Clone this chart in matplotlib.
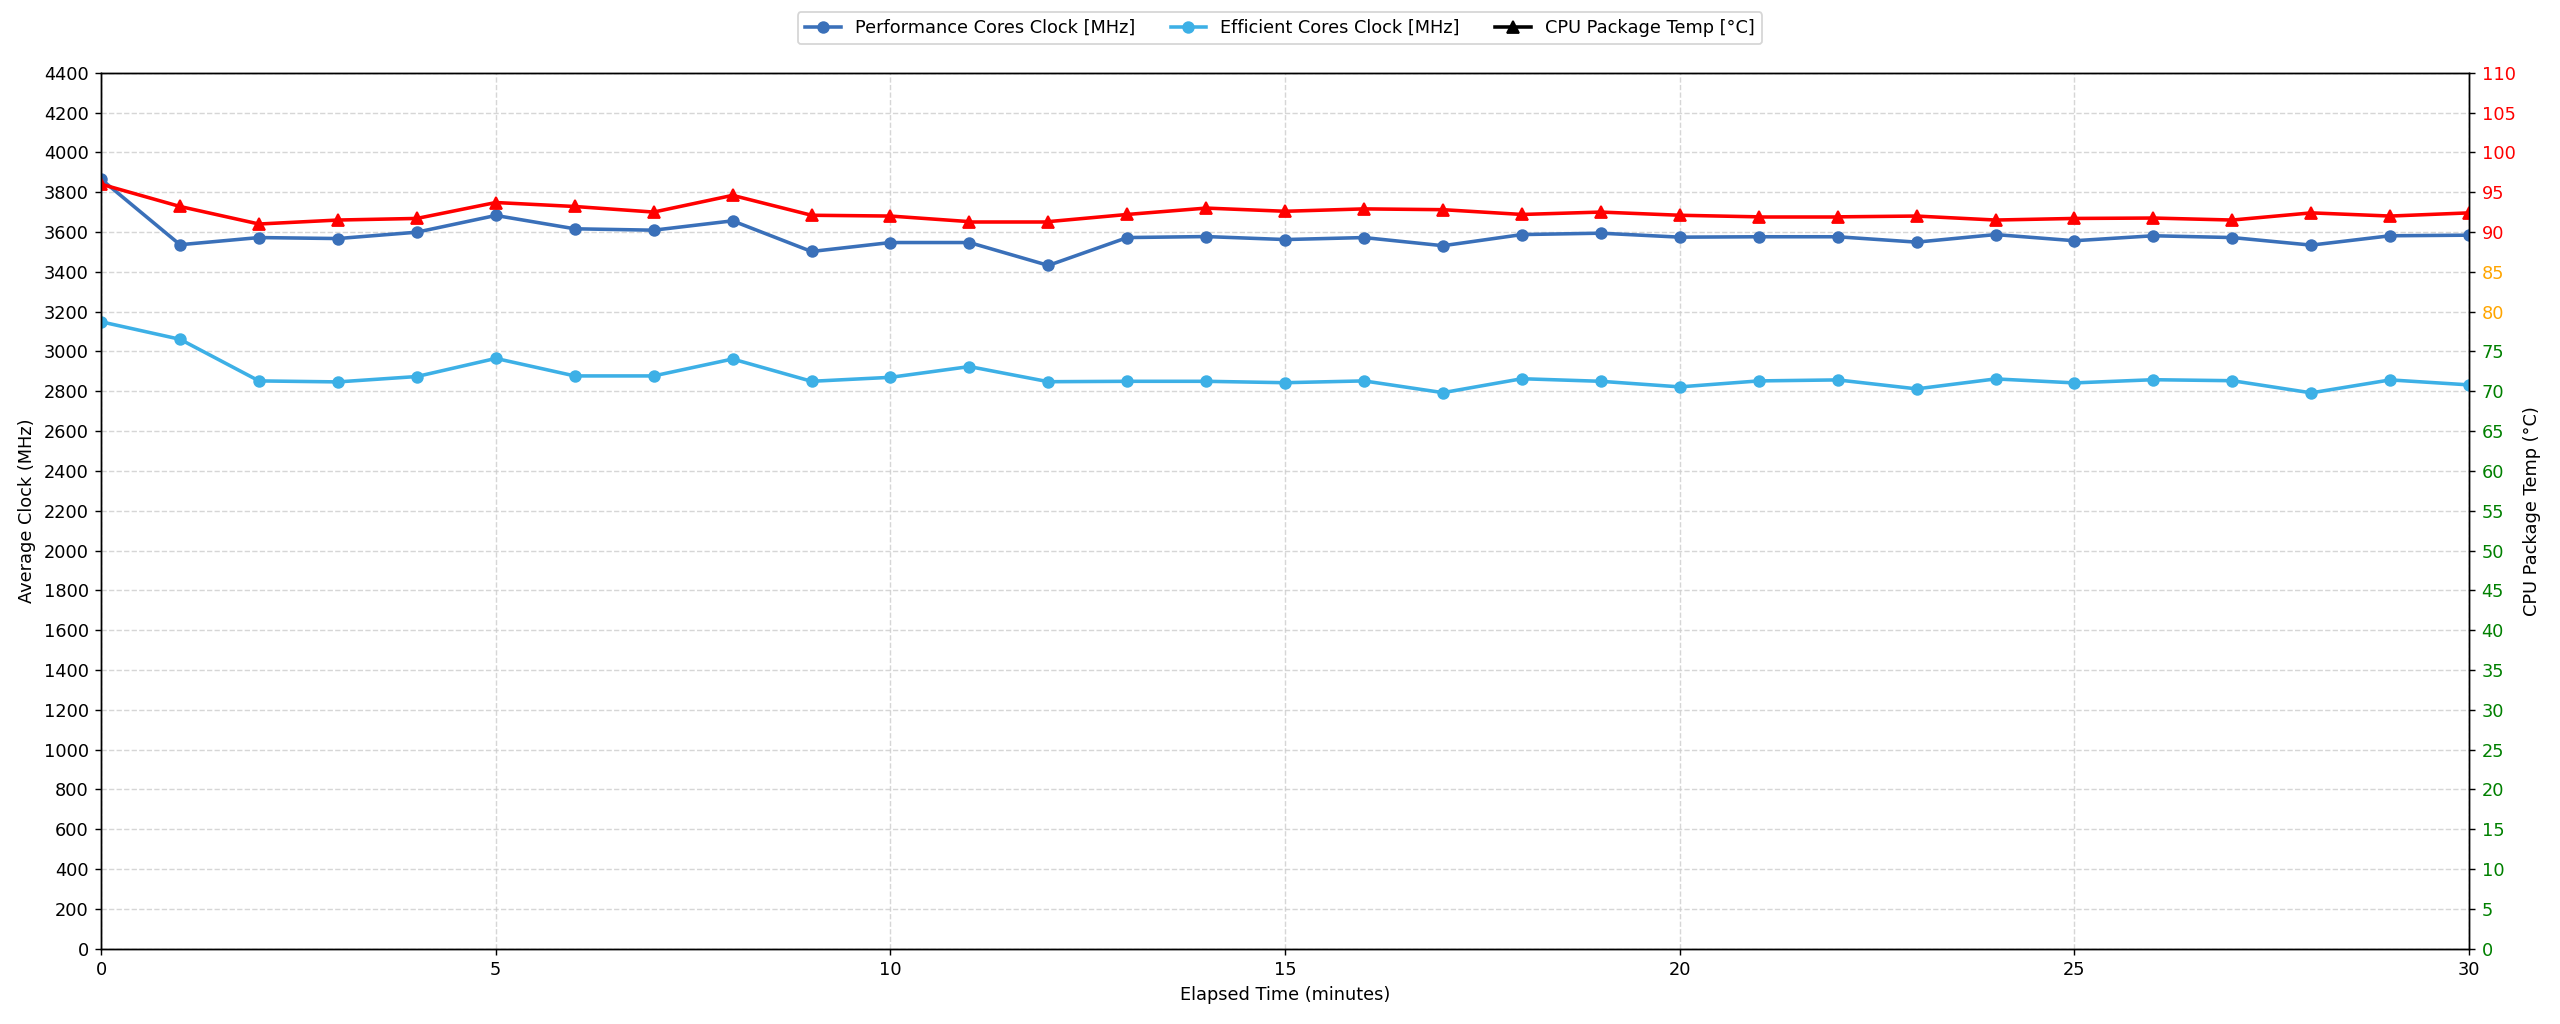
import matplotlib
matplotlib.use("Agg")
import matplotlib.pyplot as plt
from matplotlib.lines import Line2D

minutes = list(range(31))
perf_clock = [3865, 3536, 3572, 3567, 3599, 3683, 3616, 3609, 3656, 3502,
              3547, 3547, 3432, 3572, 3577, 3562, 3572, 3531, 3587, 3594,
              3574, 3576, 3576, 3549, 3587, 3556, 3581, 3572, 3534, 3581, 3584]
eff_clock = [3149, 3061, 2852, 2847, 2874, 2965, 2877, 2877, 2962, 2850,
             2870, 2924, 2848, 2850, 2850, 2843, 2852, 2793, 2863, 2850,
             2822, 2852, 2857, 2812, 2862, 2842, 2858, 2853, 2792, 2857, 2832]
cpu_temp = [96.0, 93.2, 91.0, 91.5, 91.7, 93.7, 93.2, 92.5, 94.6, 92.1,
            92.0, 91.3, 91.3, 92.2, 93.0, 92.6, 92.9, 92.8, 92.2, 92.5,
            92.1, 91.9, 91.9, 92.0, 91.5, 91.7, 91.75, 91.5, 92.4, 92.0, 92.4]

series_labels = ["Performance Cores Clock [MHz]", "Efficient Cores Clock [MHz]", "CPU Package Temp [°C]"]
perf_color = "#3a70b9"
eff_color = "#3db0e6"


def temp_color(v):
    if v >= 90:
        return "red"
    if v >= 80:
        return "orange"
    return "green"


fig = plt.figure(figsize=(20, 8), dpi=128)
ax1 = fig.add_axes([0.0395, 0.0735, 0.925, 0.8555])

ax1.plot(minutes, perf_clock, color=perf_color, marker="o", linewidth=2, markersize=6)
ax1.plot(minutes, eff_clock, color=eff_color, marker="o", linewidth=2, markersize=6)
ax1.set_xlim(0, 30)
ax1.set_ylim(0, 4400)
ax1.set_yticks(range(0, 4401, 200))
ax1.set_xticks(range(0, 31, 5))
ax1.set_xlabel("Elapsed Time (minutes)")
ax1.set_ylabel("Average Clock (MHz)")
ax1.grid(True, linestyle="--", color="#cccccc", alpha=0.8)

ax2 = ax1.twinx()
for i in range(len(minutes) - 1):
    c = temp_color(max(cpu_temp[i], cpu_temp[i + 1]))
    ax2.plot(minutes[i:i + 2], cpu_temp[i:i + 2], color=c, linewidth=2)
for m, t in zip(minutes, cpu_temp):
    ax2.plot([m], [t], marker="^", color=temp_color(t), markersize=7, linestyle="none")
ax2.set_ylim(0, 110)
ax2.set_yticks(range(0, 111, 5))
ax2.set_ylabel("CPU Package Temp (°C)")
for lbl, v in zip(ax2.get_yticklabels(), range(0, 111, 5)):
    lbl.set_color(temp_color(v))

handles = [
    Line2D([], [], color=perf_color, marker="o", linewidth=2, markersize=6),
    Line2D([], [], color=eff_color, marker="o", linewidth=2, markersize=6),
    Line2D([], [], color="black", marker="^", linewidth=2, markersize=7),
]
fig.legend(handles, series_labels, loc="upper center", bbox_to_anchor=(0.5, 0.997), ncol=3)

fig.savefig("out.png", dpi=128)
